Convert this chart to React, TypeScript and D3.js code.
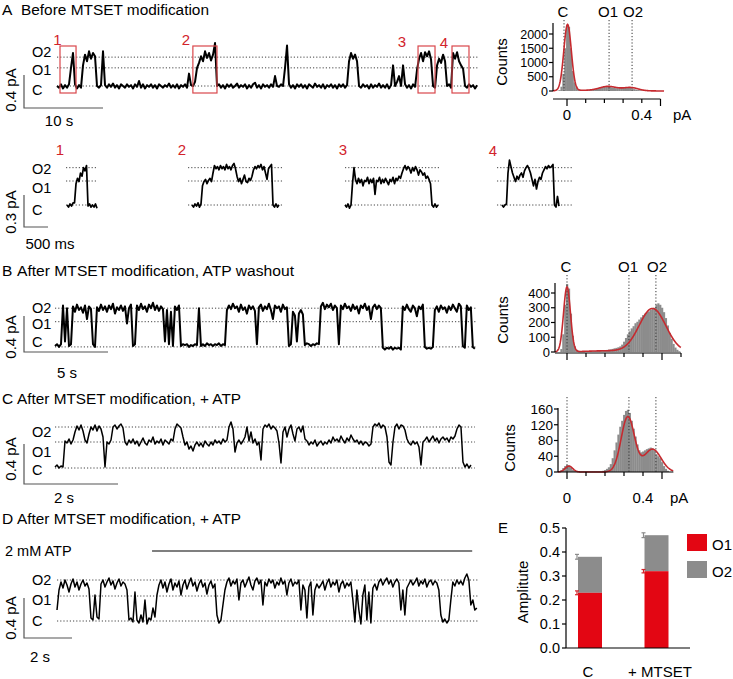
import React from "react";
import * as d3 from "d3";

const FONT = "'Liberation Sans', Arimo, Roboto, 'Noto Sans', sans-serif";
const RED_MARK = "#d2232a";
const DOT = "1.2 2";

// ================= DATA =================
const levelNames = ["O2", "O1", "C"];

// ---- A: overview trace (pA), one sample every dtA seconds ----
const dtA = 0.2532;
const traceA = [
  0, -.02, .02, -.03, .01, -.02, .02,
  .22, .40,
  .02, -.03, .01, -.02,
  .25, .38, .30, .42, .33, .40, .36,
  0, -.02, .01,
  .42,
  .01,
  -.02, .02, -.01, .03, -.02, .01, -.03, .02, 0, -.02, .02, -.01, .01, -.03, .02, -.01, .06, -.02, .02, -.03, .01, -.01, .02, -.02, .01, -.03, .02, 0, -.02, .01, -.01, .03, -.02, .01, -.02, .02, -.03, .01, -.01, .02, -.02, .15, .01,
  0, .05, .22, .28, .36, .30, .42, .34, .40, .31, .38, .52, 0,
  .02, -.02, .01, -.03, .02, -.01, .02, -.02, 0, .03, -.02, .01, -.01, .02, -.03, .01, -.02, .02, .04, -.02, .01, -.03, .02, -.01, .01, -.02, .02, -.01,
  .12, 0, -.01, .02, 0, .22, .49, .02,
  -.02, .01, -.03, .02, -.01, .02, -.02, .01, -.03, .02, 0, -.02, .03, -.01, .01, -.02, .02, -.03, .01, -.01, .02, -.02, .01, -.03, .02, -.01, .02, -.02, .01,
  .30, .40, .33, .38, .30, 0,
  -.02, .02, -.01, .01, -.03, .02, -.02, .01, -.01, .03, -.02, .01, -.02, .02, -.03, .01,
  .25, 0, .05, .12, 0, .25, .02,
  -.02, .01, -.03, .02, -.01,
  .20, .33, .40, .30, .41, .36, .42, .32, 0, -.02,
  .25, .33, .28, .38, .30, 0, .02, -.02,
  .40, .33, .41, .30, .25, .21, 0,
  -.02, .02, -.01, .01, -.03, .01,
];
const boxWindowsA = [[0.38, 2.41], [17.2, 20.25], [45.7, 47.85], [50.0, 52.15]];
const boxNames = ["1", "2", "3", "4"];
const levelsA = [0.35, 0.22, 0];

// ---- A: zoomed events (pA), one sample every dtZ seconds ----
const dtZ = 0.03125;
const event1 = [0, -.02, .01, -.01, .02, .02, .20, .25, .22, .30, .27, .35, .32, .37, -.01, .01, -.02, 0, -.02, .01, -.03];
const event2 = [
  0, -.02, .01, -.01, .02, -.02, .01,
  .18, .22, .24, .20, .23, .25, .22,
  .30, .37, .34, .36, .33, .37, .34, .36, .33, .38, .34, .36, .33, .37, .39, .34,
  .27, .22, .25, .20, .24, .28, .22, .21, .25, .23, .27,
  .33, .36, .34, .37, .35, .38, .33, .36, .30, .24, .34, .36, .38,
  0, -.02, .01, -.02, 0,
];
const event3 = [
  0, -.02, .01, -.03, 0,
  .20, .35, .24, .20, .25, .21, .24, .18, .23, .22, .26, .20, .24, .21, .25, .10, .23, .22, .26, .20, .24, .21, .25, .22, .19, .24, .22, .26, .20, .25, .23, .27, .25,
  .30, .34, .37, .33, .36, .34, .30, .35, .32, .36, .33, .28, .33, .31,
  .28, .30, .25, .27, .24, .20,
  0, -.02, .01, -.02, 0,
];
const event4 = [
  0, -.02, 0, .01,
  .30, .42, .36, .30, .26, .22, .27, .24, .28, .30, .26, .32, .35, .37, .34, .30, .24, .18, .24, .15, .22, .26, .24, .30, .33, .36, .34, .37, .35, .36, .38,
  0, -.02, .08, -.01,
];
const events = [event1, event2, event3, event4];
const eventStarts = [0.896, 3.5, 6.6875, 9.958];
const eventDotted = [[0.875, 1.542], [3.417, 5.396], [6.6875, 8.646], [9.854, 11.417]];
const levelsZ = [0.35, 0.225, 0];

// ---- B: ATP washout ----
const dtB = 0.119;
const traceB = [
  0, .02, -.01, .02,
  .45, .05, .42, 0, .02,
  .44, .38, .46, .40, .43, .37, .45, .30, .44, .41,
  .02, -.01,
  .43, .39, .46, .40, .44, .38, .45, .41, .47, .36, .43, .40, .45, .39, .44, .25, .42, .46,
  0, .02,
  .45, .40, .47, .41, .44, .38, .46, .42, .48, .40, .45, .39, .44, .41,
  .05, .40, .02, .38, 0,
  .44, .40, .45,
  0, .02, .01, .02, -.01, .01, 0, .02, .01,
  .42, 0,
  .02, 0, .03, .01, .02, 0, .02, .01, .03, 0, .02, .01,
  .40, .45, .41, .47, .42, .44, .38, .46, .40, .43, .36, .45, .41, .44, .39,
  .02,
  .43, .46, .39, .44, .41, .47, .40, .30, .45, .42, .44, .38, .46, .41, .43,
  0, .02,
  .38, .34, .05, .36, .40, .35,
  .01, .03, .02, 0, .02, .01, .03, .02,
  .44, .48, .41, .46, .43, .47, .40, .45, .42,
  .02,
  .45, .41, .47, .42, .44, .39, .46, .41, .44, .36, .45, .42, .47, .40, .44, .30, .43, .46, .41, .45, .42,
  -.02, -.04, -.02, -.03, -.01, -.04, -.02, -.03, -.02, -.04,
  .44, .40, .46, .41, .38, .45, .42, .33, .44, .41, .46,
  -.01, -.03, -.02, -.03, -.01,
  .40, .44, .38, .45, .41, .43, .37, .44, .40, .46, .42, .38, .47, .44,
  0, -.02,
  .45, .40, .43,
  -.01, -.03,
];
const levelsB = [0.42, 0.27, -0.01];

// ---- C: + ATP ----
const dtC = 0.04255;
const traceC = [
  0, .02, -.01, .01, 0,
  .26, .24, .28, .23, .27,
  .35, .41, .37, .42, .36, .27, .24, .33, .40, .37, .42, .36, .41, .38,
  .30, 0, .25, .23, .27,
  .40, .42, .38, .41, .43, .39,
  .25, .22, .27, .24, .28, .23, .26, .21, .25, .29, .24, .22, .27, .25, .30, .23, .26, .24, .28, .22, .27, .25, .23, .28, .26,
  .38, .43, .41, .39,
  .30, .22, .25, .18, .21, .16,
  .22, .25, .21, .24, .20, .26, .23, .21, .25, .22, .27, .24, .26, .23, .28, .25, .27,
  .40, .45, .38,
  .15,
  .24, .27, .23, .26, .30,
  .40,
  .26, .35, .24, .28, .22, .25,
  .07,
  .38, .42, .40, .43, .38, .41, .39, .36,
  .24, .04,
  .35, .40, .30, .38, .42, .33, .26, .38, .40, .35, .41, .28,
  .26, .22, .25, .23, .27, .21, .24, .26, .22, .25, .23, .27, .24, .30, .26, .28, .25, .31, .27, .24, .29, .26, .32, .28, .25, .27, .23, .26, .22, .25, .24, .21, .23,
  .40, .43, .41, .44, .39, .42, .40,
  .30, .05, .02, .25,
  .40, .43, .38, .42, .41, .37,
  .28, .24, .22, .26, .23, .25,
  .20, .02, .25,
  .27, .30, .25, .28, .31, .26, .29, .24, .28, .30, .27, .29, .25, .30, .28, .31,
  .38, .42, .40,
  .05,
  0, .03, -.01, .02,
];
const levelsC = [0.40, 0.25, -0.01];

// ---- D: + ATP (2 mM ATP bar) ----
const dtD = 0.0833;
const traceD = [
  .10, .30,
  .38, .32, .40, .35, .28, .36, .41, .33, .38, .30, .36, .40, .34, .37, .31,
  .02, 0, .25, .03, .01,
  .36, .40, .33, .38, .42, .35, .39, .31, .37, .41, .34, .38, .36, .30,
  0, .02, -.02, .28,
  0, -.03, .05, -.02, .20, -.04, .02, 0, .12, .03,
  .25, .35, .40, .32, .38, .28, .36, .41, .30, .37, .33, .39, .25, .35, .40, .31, .37, .42, .34, .38, .29, .36, .40, .33, .37, .26, .35, .39, .32, .36,
  .05, -.03, 0, .15, .30,
  .38, .42, .34, .39, .36, .41, .20, .37, .40, .33, .38, .43, .35, .30, .39, .42, .36, .40, .15, .38, .34, .41, .37, .40, .32, .38, .35, .42, .36, .39, .25, .37, .41, .34, .38, .36, .40,
  .10, .35, .30, .02, .33, .38, .05, .30, .36, .32,
  .35, .39, .30, .37, .41, .33, .38, .35, .40, .28, .36, .39, .32, .37, .34, .38,
  .20, -.02, .30, .10, -.04, .25, .35, 0, .28, -.03, .32, .36, .30,
  .38, .41, .35, .39, .42, .36, .40, .33, .38, .41, .37,
  .10, .30, .05, .32, .36,
  .40, .35, .38, .42, .34, .39, .36, .41, .33, .38, .40, .35, .39, .37, .30,
  .05, -.02, .01, -.03, 0, .20,
  .38, .34, .40, .36, .39, .35, .42, .46, .40,
  .15, .20, .10, .12,
];
const levelsD = [0.40, 0.24, -0.01];
const atpWindow = [3.96, 17.3];

// ---- amplitude histograms (bin width 0.01 pA) ----
const BIN = 0.01;
const histAStart = -0.05;
const histACounts = [10, 30, 150, 600, 1500, 2300, 2250, 1500, 700, 300, 120, 60, 40, 32, 30, 30, 32, 35, 40, 50, 60, 75, 95, 115, 135, 145, 150, 150, 140, 125, 110, 100, 98, 100, 105, 112, 118, 122, 120, 110, 90, 65, 45, 32, 24, 18, 15, 12, 10, 8, 6, 5, 4, 3, 2, 2];
const fitA = [[2320, 0.003, 0.02], [140, 0.22, 0.045], [110, 0.34, 0.04], [25, 0.15, 0.15]];
const histALevels = [-0.016, 0.225, 0.348];

const histBStart = -0.03;
const histBCounts = [20, 120, 320, 460, 430, 260, 110, 40, 15, 8, 5, 4, 4, 4, 5, 5, 6, 6, 7, 8, 9, 10, 11, 12, 14, 16, 18, 21, 25, 28, 32, 38, 50, 70, 95, 120, 140, 160, 175, 195, 205, 220, 235, 250, 260, 270, 275, 285, 295, 300, 320, 330, 320, 300, 270, 230, 180, 130, 90, 55, 30, 15, 5];
const fitB = [[440, 0.0, 0.018], [295, 0.45, 0.07], [8, 0.2, 0.1]];
const histBLevels = [0, 0.326, 0.468];

const histCStart = -0.03;
const histCCounts = [5, 10, 15, 18, 17, 12, 6, 3, 2, 1, 1, 1, 1, 1, 1, 1, 1, 1, 1, 1, 1, 1, 3, 5, 8, 12, 20, 35, 55, 75, 95, 115, 130, 145, 155, 158, 150, 130, 110, 90, 70, 55, 50, 52, 55, 58, 60, 62, 60, 55, 45, 40, 35, 25, 15, 8, 3];
const fitC = [[15, 0.01, 0.02], [140, 0.32, 0.035], [58, 0.45, 0.045]];
const histCLevels = [0, 0.326, 0.468];

// ---- E: amplitudes ----
const eCats = ["C", "+ MTSET"];
const eO1 = [0.23, 0.32];
const eO1Err = [0.008, 0.007];
const eTotal = [0.38, 0.47];
const eTotalErr = [0.01, 0.01];
const eYTicks = [0, 0.1, 0.2, 0.3, 0.4, 0.5];

// ================= HELPERS =================
type Sc = d3.ScaleLinear<number, number>;

function tracePath(values: number[], dt: number, t0: number, x: Sc, y: Sc) {
  return d3.line<number>().x((_, i) => x(t0 + i * dt)).y((v) => y(v))(values) || "";
}

const gauss = (v: number, p: number[][]) =>
  p.reduce((s, [a, m, sd]) => s + a * Math.exp(-((v - m) ** 2) / (2 * sd * sd)), 0);

function HLevels({ levels, x0, x1, y }: { levels: number[]; x0: number; x1: number; y: Sc }) {
  return (
    <g>
      {levels.map((l, i) => (
        <line key={i} x1={x0} x2={x1} y1={y(l)} y2={y(l)} stroke="#444" strokeWidth={1} strokeDasharray={DOT} />
      ))}
    </g>
  );
}

function LevelLabels({ baselines }: { baselines: number[] }) {
  return (
    <g fontSize={14.5}>
      {levelNames.map((n, i) => (
        <text key={n} x={32} y={baselines[i]}>{n}</text>
      ))}
    </g>
  );
}

function ScaleBar({ x, yb, vLen, hLen, vLabel, vLabelY, hLabel, hLabelX, hLabelY }: any) {
  return (
    <g>
      <path d={`M${x},${yb - vLen}V${yb}H${x + hLen}`} fill="none" stroke="#555" strokeWidth={1.2} />
      <text transform={`translate(16,${vLabelY}) rotate(-90)`} textAnchor="middle" fontSize={15}>{vLabel}</text>
      <text x={hLabelX} y={hLabelY} textAnchor="middle" fontSize={15}>{hLabel}</text>
    </g>
  );
}

function Title({ letter, text, y, tx, len }: { letter: string; text: string; y: number; tx: number; len: number }) {
  return (
    <g fontSize={15.5}>
      <text x={2} y={y}>{letter}</text>
      <text x={tx} y={y} textLength={len} lengthAdjust="spacingAndGlyphs">{text}</text>
    </g>
  );
}

function Hist({ xs, ys, start, counts, fit, fitLo, fitHi, levels, dotTop, yTicks, yAxisX, yAxisTop, xAxisY, xTicks, xMax, tickFont }: any) {
  const bars = counts.map((c: number, i: number) => {
    const b0 = start + i * BIN - BIN / 2;
    const xl = xs(b0);
    const xr = xs(b0 + BIN);
    return <rect key={i} x={xl} y={ys(c)} width={xr - xl + 0.3} height={ys(0) - ys(c)} fill="#8c8c8c" />;
  });
  const pts = d3.range(fitLo, fitHi + 1e-9, 0.002);
  const fitD = d3.line<number>().x((v) => xs(v)).y((v) => ys(gauss(v, fit)))(pts) || "";
  const y0 = ys(0);
  return (
    <g>
      {bars}
      {levels.map((l: number, i: number) => (
        <line key={i} x1={xs(l)} x2={xs(l)} y1={dotTop} y2={y0} stroke="#333" strokeWidth={1} strokeDasharray={DOT} />
      ))}
      <path d={fitD} fill="none" stroke="#c62a2f" strokeWidth={1.6} />
      <line x1={yAxisX} x2={yAxisX} y1={yAxisTop} y2={y0} stroke="#000" strokeWidth={1.2} />
      {yTicks.map((t: number) => (
        <g key={t}>
          <line x1={yAxisX - 4} x2={yAxisX} y1={ys(t)} y2={ys(t)} stroke="#000" strokeWidth={1.2} />
          <text x={yAxisX - 5} y={ys(t) + tickFont * 0.36} textAnchor="end" fontSize={tickFont}>{t}</text>
        </g>
      ))}
      <line x1={yAxisX} x2={xs(xMax)} y1={xAxisY} y2={xAxisY} stroke="#000" strokeWidth={1.2} />
      {xTicks.map((t: number, i: number) => (
        <line key={i} x1={xs(t)} x2={xs(t)} y1={xAxisY} y2={xAxisY + (i === 0 || Math.abs(t - 0.5) < 1e-6 ? 7 : 4)} stroke="#000" strokeWidth={1.2} />
      ))}
    </g>
  );
}

// ================= APP =================
export default function App() {
  const xA = d3.scaleLinear().domain([0, 10]).range([57, 136]);
  const yA = d3.scaleLinear().domain([0, 0.4]).range([86, 53]);
  const xZ = d3.scaleLinear().domain([0, 0.5]).range([24, 48]);
  const yZ = d3.scaleLinear().domain([0, 0.3]).range([205, 173]);
  const xB = d3.scaleLinear().domain([0, 5]).range([55, 139]);
  const yB = d3.scaleLinear().domain([0, 0.4]).range([346, 310]);
  const xC = d3.scaleLinear().domain([0, 2]).range([55, 149]);
  const yC = d3.scaleLinear().domain([0, 0.4]).range([467, 427]);
  const xD = d3.scaleLinear().domain([0, 2]).range([57, 105]);
  const yD = d3.scaleLinear().domain([0, 0.4]).range([620, 580]);

  const hxA = d3.scaleLinear().domain([0, 0.5]).range([567, 660.5]);
  const hyA = d3.scaleLinear().domain([0, 2000]).range([91, 34]);
  const hxB = d3.scaleLinear().domain([0, 0.6]).range([567, 681]);
  const hyB = d3.scaleLinear().domain([0, 400]).range([352, 293]);
  const hxC = d3.scaleLinear().domain([0, 0.5]).range([567, 662]);
  const hyC = d3.scaleLinear().domain([0, 160]).range([472, 409]);

  const exS = d3.scalePoint<string>().domain(eCats).range([590, 656.5]);
  const eyS = d3.scaleLinear().domain([0, 0.5]).range([648, 528]);
  const barW = 24;
  const eLabelShift = [-2, 3.5];

  const endA = xA.invert(478);
  const endB = xB.invert(476);
  const endC = xC.invert(475);
  const endD = xD.invert(478);

  const labelOffsets = [2.5, 7, 16, 8];
  const labelBase = [45, 45, 47, 48];

  return (
    <svg width={733} height={679} style={{ position: "absolute", left: 0, top: 0, background: "#fff", fontFamily: FONT }} fontFamily={FONT} fill="#000">
      <rect width={733} height={679} fill="#fff" />
      <g fontFamily={FONT} style={{ fontFamily: FONT }}>

      {/* ========== A ========== */}
      <Title letter="A" text="Before MTSET modification" y={15} tx={21} len={188} />
      <HLevels levels={levelsA} x0={xA(0)} x1={xA(endA)} y={yA} />
      <path d={tracePath(traceA, dtA, 0, xA, yA)} fill="none" stroke="#000" strokeWidth={2} strokeLinejoin="round" />
      {boxWindowsA.map(([t0, t1], i) => (
        <g key={i}>
          <rect x={xA(t0)} y={46} width={xA(t1) - xA(t0)} height={47} fill="none" stroke="#d9474b" strokeWidth={1.2} />
          <text x={xA(t0) - labelOffsets[i]} y={labelBase[i]} textAnchor="middle" fontSize={15} fill={RED_MARK}>{boxNames[i]}</text>
        </g>
      ))}
      <LevelLabels baselines={[57, 75, 95]} />
      <ScaleBar x={24} yb={108} vLen={yA(0) - yA(0.4)} hLen={xA(10) - xA(0)} vLabel="0.4 pA" vLabelY={90} hLabel="10 s" hLabelX={59} hLabelY={126} />

      {/* A histogram */}
      <Hist xs={hxA} ys={hyA} start={histAStart} counts={histACounts} fit={fitA} fitLo={-0.075} fitHi={0.52}
        levels={histALevels} dotTop={20} yTicks={[0, 500, 1000, 1500, 2000]} yAxisX={553} yAxisTop={23}
        xAxisY={99} xTicks={[0, 0.1, 0.2, 0.3, 0.4, 0.5]} xMax={0.5} tickFont={12.5} />
      <g fontSize={15}>
        <text x={563} y={17} textAnchor="middle">C</text>
        <text x={608} y={17} textAnchor="middle">O1</text>
        <text x={633} y={17} textAnchor="middle">O2</text>
        <text transform="translate(507,62) rotate(-90)" textAnchor="middle">Counts</text>
        <text x={hxA(0)} y={120} textAnchor="middle">0</text>
        <text x={hxA(0.4)} y={120} textAnchor="middle">0.4</text>
        <text x={673} y={120}>pA</text>
      </g>

      {/* A zoomed events */}
      {events.map((ev, i) => (
        <g key={i}>
          <HLevels levels={levelsZ} x0={xZ(eventDotted[i][0])} x1={xZ(eventDotted[i][1])} y={yZ} />
          <path d={tracePath(ev, dtZ, eventStarts[i], xZ, yZ)} fill="none" stroke="#000" strokeWidth={1.7} strokeLinejoin="round" />
        </g>
      ))}
      <g fontSize={15} fill={RED_MARK} textAnchor="middle">
        <text x={60} y={155}>1</text>
        <text x={182} y={155}>2</text>
        <text x={343} y={155}>3</text>
        <text x={493} y={156}>4</text>
      </g>
      <LevelLabels baselines={[174, 193, 215]} />
      <ScaleBar x={24} yb={227} vLen={yZ(0) - yZ(0.3)} hLen={xZ(0.5) - xZ(0)} vLabel="0.3 pA" vLabelY={212} hLabel="500 ms" hLabelX={50} hLabelY={249} />

      {/* ========== B ========== */}
      <Title letter="B" text="After MTSET modification, ATP washout" y={276} tx={17} len={277} />
      <HLevels levels={levelsB} x0={xB(0)} x1={xB(endB)} y={yB} />
      <path d={tracePath(traceB, dtB, 0, xB, yB)} fill="none" stroke="#000" strokeWidth={2} strokeLinejoin="round" />
      <LevelLabels baselines={[313, 329, 347]} />
      <ScaleBar x={24} yb={352} vLen={yB(0) - yB(0.4)} hLen={xB(5) - xB(0)} vLabel="0.4 pA" vLabelY={337} hLabel="5 s" hLabelX={67} hLabelY={378} />

      <Hist xs={hxB} ys={hyB} start={histBStart} counts={histBCounts} fit={fitB} fitLo={-0.063} fitHi={0.6}
        levels={histBLevels} dotTop={275} yTicks={[0, 100, 200, 300, 400]} yAxisX={555} yAxisTop={283}
        xAxisY={353} xTicks={[0, 0.1, 0.2, 0.3, 0.4, 0.5, 0.6]} xMax={0.6} tickFont={13} />
      <g fontSize={15}>
        <text x={566} y={272} textAnchor="middle">C</text>
        <text x={628} y={272} textAnchor="middle">O1</text>
        <text x={657} y={272} textAnchor="middle">O2</text>
        <text transform="translate(508,320) rotate(-90)" textAnchor="middle">Counts</text>
      </g>

      {/* ========== C ========== */}
      <Title letter="C" text="After MTSET modification, + ATP" y={404} tx={17} len={224} />
      <HLevels levels={levelsC} x0={xC(0)} x1={xC(endC)} y={yC} />
      <path d={tracePath(traceC, dtC, 0, xC, yC)} fill="none" stroke="#000" strokeWidth={1.5} strokeLinejoin="round" />
      <LevelLabels baselines={[437, 457, 475]} />
      <ScaleBar x={24} yb={484} vLen={yC(0) - yC(0.4)} hLen={xC(2) - xC(0)} vLabel="0.4 pA" vLabelY={459} hLabel="2 s" hLabelX={64} hLabelY={503} />

      <Hist xs={hxC} ys={hyC} start={histCStart} counts={histCCounts} fit={fitC} fitLo={-0.047} fitHi={0.56}
        levels={histCLevels} dotTop={397} yTicks={[0, 40, 80, 120, 160]} yAxisX={558} yAxisTop={408}
        xAxisY={472} xTicks={[0, 0.1, 0.2, 0.3, 0.4, 0.5]} xMax={0.56} tickFont={13.5} />
      <g fontSize={15}>
        <text transform="translate(515,448) rotate(-90)" textAnchor="middle">Counts</text>
        <text x={hxC(0)} y={503} textAnchor="middle">0</text>
        <text x={hxC(0.4)} y={503} textAnchor="middle">0.4</text>
        <text x={670} y={503}>pA</text>
      </g>

      {/* ========== D ========== */}
      <Title letter="D" text="After MTSET modification, + ATP" y={524} tx={17} len={224} />
      <text x={5} y={556} fontSize={14.5}>2 mM ATP</text>
      <line x1={xD(atpWindow[0])} x2={xD(atpWindow[1])} y1={551} y2={551} stroke="#000" strokeWidth={1.2} />
      <HLevels levels={levelsD} x0={xD(0)} x1={xD(endD)} y={yD} />
      <path d={tracePath(traceD, dtD, 0, xD, yD)} fill="none" stroke="#000" strokeWidth={1.5} strokeLinejoin="round" />
      <LevelLabels baselines={[585, 605, 626]} />
      <ScaleBar x={24} yb={638} vLen={yD(0) - yD(0.4)} hLen={xD(2) - xD(0)} vLabel="0.4 pA" vLabelY={618} hLabel="2 s" hLabelX={40} hLabelY={662} />

      {/* ========== E ========== */}
      <text x={498} y={533} fontSize={15}>E</text>
      {eCats.map((c, i) => {
        const cx = exS(c)!;
        const xl = cx - barW / 2;
        return (
          <g key={c}>
            <rect x={xl} y={eyS(eTotal[i])} width={barW} height={eyS(eO1[i]) - eyS(eTotal[i])} fill="#8c8c8c" />
            <rect x={xl} y={eyS(eO1[i])} width={barW} height={eyS(0) - eyS(eO1[i])} fill="#e30613" />
            <g stroke="#8c8c8c" strokeWidth={1.2}>
              <line x1={xl - 1} x2={xl - 1} y1={eyS(eTotal[i] - eTotalErr[i])} y2={eyS(eTotal[i] + eTotalErr[i])} />
              <line x1={xl - 3} x2={xl + 1} y1={eyS(eTotal[i] - eTotalErr[i])} y2={eyS(eTotal[i] - eTotalErr[i])} />
              <line x1={xl - 3} x2={xl + 1} y1={eyS(eTotal[i] + eTotalErr[i])} y2={eyS(eTotal[i] + eTotalErr[i])} />
            </g>
            <g stroke="#d2232a" strokeWidth={1.2}>
              <line x1={xl - 1} x2={xl - 1} y1={eyS(eO1[i] - eO1Err[i])} y2={eyS(eO1[i] + eO1Err[i])} />
              <line x1={xl - 3} x2={xl + 1} y1={eyS(eO1[i] - eO1Err[i])} y2={eyS(eO1[i] - eO1Err[i])} />
              <line x1={xl - 3} x2={xl + 1} y1={eyS(eO1[i] + eO1Err[i])} y2={eyS(eO1[i] + eO1Err[i])} />
            </g>
            <text x={cx + eLabelShift[i]} y={677} textAnchor="middle" fontSize={15}>{c}</text>
          </g>
        );
      })}
      <line x1={566} x2={566} y1={eyS(0.5)} y2={eyS(0)} stroke="#000" strokeWidth={1.2} />
      <line x1={566} x2={690} y1={eyS(0)} y2={eyS(0)} stroke="#000" strokeWidth={1.2} />
      {eYTicks.map((t) => (
        <g key={t}>
          <line x1={562} x2={566} y1={eyS(t)} y2={eyS(t)} stroke="#000" strokeWidth={1.2} />
          <text x={560} y={eyS(t) + 5} textAnchor="end" fontSize={14.5}>{t.toFixed(1)}</text>
        </g>
      ))}
      <text transform="translate(528,592) rotate(-90)" textAnchor="middle" fontSize={15}>Amplitute</text>
      <rect x={687} y={534} width={20} height={17} fill="#e30613" />
      <text x={712} y={550} fontSize={15}>O1</text>
      <rect x={687} y={561} width={20} height={17} fill="#8c8c8c" />
      <text x={712} y={577} fontSize={15}>O2</text>
      </g>
    </svg>
  );
}
